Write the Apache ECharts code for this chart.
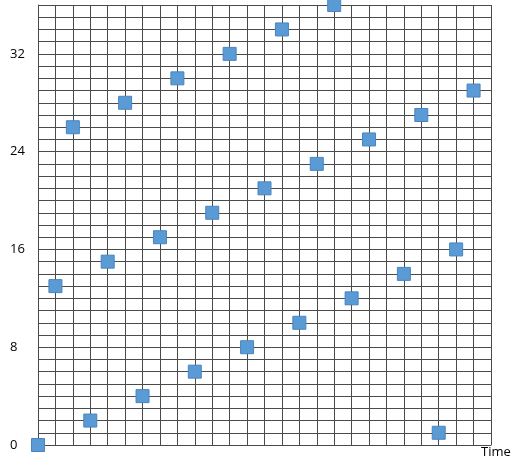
<!DOCTYPE html>
<html>
<head>
<meta charset="utf-8">
<script src="https://cdn.jsdelivr.net/npm/echarts@6/dist/echarts.min.js"></script>
<style>
html,body{margin:0;padding:0;background:#fff;}
#chart{width:523px;height:471px;}
</style>
</head>
<body>
<div id="chart"></div>
<script>
// Data
var timeValues = [0, 1, 2, 3, 4, 5, 6, 7, 8, 9, 10, 11, 12, 13, 14, 15, 16, 17, 18, 19, 21, 22, 23, 24, 25];
var seriesValues = [0, 13, 26, 2, 15, 28, 4, 17, 30, 6, 19, 32, 8, 21, 34, 10, 23, 36, 12, 25, 14, 27, 1, 16, 29];
var yTickLabels = [0, 8, 16, 24, 32];
var xAxisName = 'Time';

var points = timeValues.map(function (t, i) { return [t, seriesValues[i]]; });

var chart = echarts.init(document.getElementById('chart'), null, {renderer: 'canvas'});
var gridColor = '#4a4a4a';
chart.setOption({
  animation: false,
  backgroundColor: '#ffffff',
  grid: {left: 38, right: 32, top: 5, bottom: 26, containLabel: false},
  xAxis: {
    type: 'value', min: 0, max: 26, interval: 1,
    name: xAxisName, nameLocation: 'end', nameGap: -10,
    nameTextStyle: {fontFamily: 'Open Sans', fontSize: 13, color: '#000', align: 'left', verticalAlign: 'top', padding: [1, 0, 0, 0]},
    axisLine: {show: true, lineStyle: {color: gridColor, width: 1}},
    axisTick: {show: false},
    axisLabel: {show: false},
    splitLine: {show: true, lineStyle: {color: gridColor, width: 1}}
  },
  yAxis: {
    type: 'value', min: 0, max: 36, interval: 1,
    axisLine: {show: true, lineStyle: {color: gridColor, width: 1}},
    axisTick: {show: false},
    axisLabel: {
      show: true, interval: 0, margin: 28, align: 'left',
      fontFamily: 'Open Sans', fontSize: 13, color: '#000',
      formatter: function (v) { return yTickLabels.indexOf(v) >= 0 ? String(v) : ''; }
    },
    splitLine: {show: true, lineStyle: {color: gridColor, width: 1}}
  },
  series: [{
    type: 'scatter',
    data: points,
    symbol: 'rect',
    symbolSize: 13,
    clip: false,
    itemStyle: {color: '#5b9bd5', borderColor: '#4a84be', borderWidth: 1, opacity: 1}
  }]
});
</script>
</body>
</html>
